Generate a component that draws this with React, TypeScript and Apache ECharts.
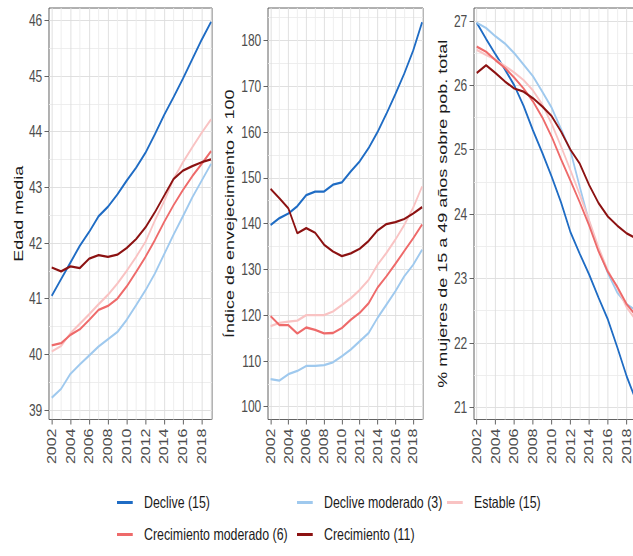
import React, { useEffect, useRef } from "react";
import * as echarts from "echarts";

// ---------- data ----------
const years = [2002, 2003, 2004, 2005, 2006, 2007, 2008, 2009, 2010, 2011, 2012, 2013, 2014, 2015, 2016, 2017, 2018, 2019];

const groupNames = ["Declive (15)", "Declive moderado (3)", "Estable (15)", "Crecimiento moderado (6)", "Crecimiento (11)"];
const groupColors = ["#1f6cc4", "#9fc9ee", "#f9c3c3", "#ee6a6a", "#8c1212"];

const panelTitles = ["Edad media", "Índice de envejecimiento × 100", "% mujeres de 15 a 49 años sobre pob. total"];

// Edad media
const edadDeclive = [41.05, 41.35, 41.65, 41.95, 42.2, 42.48, 42.65, 42.87, 43.12, 43.35, 43.62, 43.95, 44.3, 44.62, 44.95, 45.3, 45.65, 45.97];
const edadDecliveMod = [39.22, 39.38, 39.65, 39.82, 39.98, 40.14, 40.27, 40.4, 40.62, 40.88, 41.15, 41.45, 41.8, 42.15, 42.48, 42.82, 43.12, 43.42];
const edadEstable = [40.05, 40.15, 40.38, 40.55, 40.72, 40.9, 41.07, 41.27, 41.5, 41.75, 42.02, 42.4, 42.75, 43.15, 43.45, 43.72, 43.98, 44.22];
const edadCrecMod = [40.16, 40.2, 40.35, 40.45, 40.62, 40.8, 40.87, 41.0, 41.22, 41.48, 41.75, 42.05, 42.38, 42.68, 42.95, 43.2, 43.42, 43.65];
const edadCrec = [41.56, 41.49, 41.58, 41.55, 41.72, 41.78, 41.75, 41.79, 41.91, 42.07, 42.28, 42.55, 42.85, 43.15, 43.3, 43.38, 43.45, 43.5];

// Índice de envejecimiento x 100
const indDeclive = [139.7, 141.2, 142.2, 143.8, 146.2, 147.0, 147.0, 148.5, 149.0, 151.4, 153.6, 156.5, 160.0, 164.0, 168.3, 172.8, 177.8, 184.0];
const indDecliveMod = [106.0, 105.7, 107.1, 107.8, 108.9, 108.9, 109.1, 109.7, 111.0, 112.5, 114.3, 116.1, 119.4, 122.3, 125.2, 128.5, 131.0, 134.3];
const indEstable = [117.6, 118.3, 118.6, 118.8, 120.0, 120.0, 120.0, 120.8, 122.2, 123.7, 125.5, 127.7, 131.0, 133.6, 136.5, 139.7, 143.5, 148.1];
const indCrecMod = [119.8, 117.8, 117.8, 116.0, 117.3, 116.8, 116.0, 116.1, 117.2, 119.0, 120.5, 122.6, 126.0, 128.5, 131.2, 134.0, 136.8, 139.8];
const indCrec = [147.6, 145.5, 143.3, 137.9, 139.0, 138.0, 135.4, 133.9, 132.9, 133.5, 134.5, 136.2, 138.5, 139.9, 140.3, 141.0, 142.2, 143.6];

// % mujeres de 15 a 49 años
const mujDeclive = [26.97, 26.72, 26.48, 26.25, 26.0, 25.68, 25.3, 24.95, 24.58, 24.18, 23.72, 23.38, 23.06, 22.7, 22.36, 21.93, 21.48, 21.1];
const mujDecliveMod = [26.97, 26.89, 26.76, 26.65, 26.5, 26.32, 26.14, 25.9, 25.65, 25.32, 24.98, 24.42, 23.88, 23.45, 23.08, 22.78, 22.6, 22.5];
const mujEstable = [26.55, 26.47, 26.4, 26.3, 26.2, 26.08, 25.92, 25.7, 25.4, 25.05, 24.68, 24.3, 23.9, 23.48, 23.12, 22.85, 22.55, 22.35];
const mujCrecMod = [26.6, 26.52, 26.39, 26.27, 26.12, 25.95, 25.75, 25.5, 25.2, 24.85, 24.52, 24.18, 23.82, 23.42, 23.1, 22.87, 22.6, 22.42];
const mujCrec = [26.19, 26.31, 26.19, 26.06, 25.95, 25.9, 25.8, 25.67, 25.52, 25.28, 25.0, 24.78, 24.45, 24.17, 23.96, 23.82, 23.7, 23.62];

// ticks
const xMajorTicks = [2002, 2004, 2006, 2008, 2010, 2012, 2014, 2016, 2018];
const xMinorTicks = [2003, 2005, 2007, 2009, 2011, 2013, 2015, 2017, 2019];
const edadTicks = [39, 40, 41, 42, 43, 44, 45, 46];
const edadMinor = [39.5, 40.5, 41.5, 42.5, 43.5, 44.5, 45.5];
const indTicks = [100, 110, 120, 130, 140, 150, 160, 170, 180];
const indMinor = [105, 115, 125, 135, 145, 155, 165, 175, 185];
const mujTicks = [21, 22, 23, 24, 25, 26, 27];
const mujMinor = [21.5, 22.5, 23.5, 24.5, 25.5, 26.5];

const xRange = [2001.71, 2019.1];
const edadRange = [38.83, 46.22];
const indRange = [97.2, 187.1];
const mujRange = [20.81, 27.2];

// ---------- layout (reference pixels; chart is squeezed horizontally) ----------
const S = 0.75;
const FONT = "'Liberation Sans', Arial, sans-serif";

export default function App() {
  const ref = useRef<HTMLDivElement>(null);

  useEffect(() => {
    if (!ref.current) return;
    const chart = echarts.init(ref.current, null, { renderer: "svg" });
    const u = (v: number) => v / S;

    const panelData = [
      [edadDeclive, edadDecliveMod, edadEstable, edadCrecMod, edadCrec],
      [indDeclive, indDecliveMod, indEstable, indCrecMod, indCrec],
      [mujDeclive, mujDecliveMod, mujEstable, mujCrecMod, mujCrec],
    ];
    const yRanges = [edadRange, indRange, mujRange];
    const yTicks = [edadTicks, indTicks, mujTicks];
    const yMinor = [edadMinor, indMinor, mujMinor];
    const panels = [
      { left: 49, width: 163, nameGap: 32 },
      { left: 268, width: 155, nameGap: 42 },
      { left: 474, width: 163, nameGap: 33 },
    ];
    const top = 8;
    const height = 411.5;

    const grid: any[] = [];
    const xAxis: any[] = [];
    const yAxis: any[] = [];
    const series: any[] = [];

    panels.forEach((p, g) => {
      grid.push({
        left: u(p.left),
        top,
        width: u(p.width),
        height,
        show: true,
        borderColor: "#4d4d4d",
        borderWidth: 1,
        backgroundColor: "#ffffff",
        containLabel: false,
      });
      // major x
      xAxis.push({
        type: "value",
        gridIndex: g,
        min: xRange[0],
        max: xRange[1],
        axisLine: { show: false },
        axisTick: { show: true, customValues: xMajorTicks, length: 5, lineStyle: { color: "#4d4d4d", width: 1 } },
        axisLabel: {
          customValues: xMajorTicks,
          rotate: 90,
          margin: 9,
          color: "#4d4d4d",
          fontSize: 16,
          fontFamily: FONT,
          formatter: (v: number) => String(v),
        },
        splitLine: { show: true, lineStyle: { color: "#dcdcdc", width: 1 } },
      });
      // minor x (gridlines only)
      xAxis.push({
        type: "value",
        gridIndex: g,
        min: xRange[0],
        max: xRange[1],
        axisLine: { show: false },
        axisTick: { show: false, customValues: xMinorTicks },
        axisLabel: { show: false, customValues: xMinorTicks },
        splitLine: { show: true, lineStyle: { color: "#ececec", width: 1 } },
      });
      // major y
      yAxis.push({
        type: "value",
        gridIndex: g,
        position: "left",
        min: yRanges[g][0],
        max: yRanges[g][1],
        name: panelTitles[g],
        nameLocation: "middle",
        nameGap: p.nameGap,
        nameTextStyle: { color: "#1a1a1a", fontSize: 18, fontFamily: FONT },
        axisLine: { show: false },
        axisTick: { show: true, customValues: yTicks[g], length: 6, lineStyle: { color: "#4d4d4d", width: 1 } },
        axisLabel: {
          customValues: yTicks[g],
          margin: 9,
          color: "#4d4d4d",
          fontSize: 16,
          fontFamily: FONT,
          formatter: (v: number) => String(v),
        },
        splitLine: { show: true, lineStyle: { color: "#dcdcdc", width: 1 } },
      });
      // minor y
      yAxis.push({
        type: "value",
        gridIndex: g,
        position: "left",
        min: yRanges[g][0],
        max: yRanges[g][1],
        axisLine: { show: false },
        axisTick: { show: false, customValues: yMinor[g] },
        axisLabel: { show: false, customValues: yMinor[g] },
        splitLine: { show: true, lineStyle: { color: "#ececec", width: 1 } },
      });

      panelData[g].forEach((vals, i) => {
        series.push({
          type: "line",
          name: groupNames[i],
          xAxisIndex: 2 * g,
          yAxisIndex: 2 * g,
          data: years.map((y, k) => [y, vals[k]]),
          showSymbol: false,
          symbol: "none",
          color: groupColors[i],
          lineStyle: { color: groupColors[i], width: 2.3 },
          z: 3 + i,
        });
      });
    });

    const legendPos = [
      { name: groupNames[0], left: 117, top: 494 },
      { name: groupNames[1], left: 297, top: 494 },
      { name: groupNames[2], left: 447, top: 494 },
      { name: groupNames[3], left: 117, top: 526 },
      { name: groupNames[4], left: 297, top: 526 },
    ];
    const legend = legendPos.map((l) => ({
      data: [l.name],
      left: u(l.left),
      top: l.top,
      padding: 0,
      icon: "rect",
      itemWidth: 21,
      itemHeight: 3,
      selectedMode: false,
      textStyle: { color: "#1a1a1a", fontSize: 16.5, fontFamily: FONT, padding: [0, 0, 0, 10] },
    }));

    chart.setOption({
      animation: false,
      backgroundColor: "#ffffff",
      grid,
      xAxis,
      yAxis,
      legend,
      series,
    });

    return () => chart.dispose();
  }, []);

  return (
    <div style={{ position: "fixed", left: 0, top: 0, width: 633, height: 556, overflow: "hidden", background: "#fff" }}>
      <div
        ref={ref}
        style={{ width: 680 / S, height: 556, transform: `scaleX(${S})`, transformOrigin: "0 0" }}
      />
    </div>
  );
}
